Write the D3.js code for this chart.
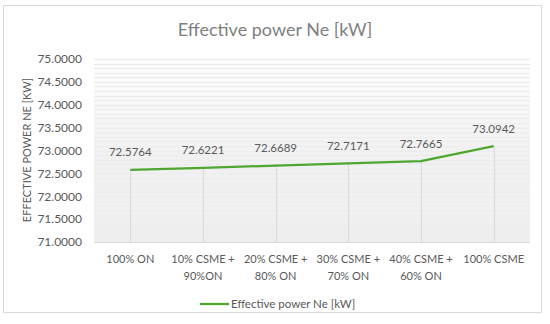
<!DOCTYPE html>
<html>
<head>
<script src="https://d3js.org/d3.v7.min.js"></script>
<style>
  body { margin: 0; background: #fff; }
  text { font-family: Lato, "Open Sans", sans-serif; fill: #595959; }
</style>
</head>
<body>
<div id="chart"></div>
<script>
var categories = [["100% ON"], ["10% CSME +", "90%ON"], ["20% CSME +", "80% ON"],
                  ["30% CSME +", "70% ON"], ["40% CSME +", "60% ON"], ["100%  CSME"]];
var values = [72.5764, 72.6221, 72.6689, 72.7171, 72.7665, 73.0942];
var yTicks = [71, 71.5, 72, 72.5, 73, 73.5, 74, 74.5, 75];
var seriesName = "Effective power Ne [kW]";

var width = 550, height = 324;
var plotLeft = 94, plotRight = 530, plotTop = 59, plotBottom = 242;

var svg = d3.select("#chart").append("svg")
    .attr("width", width).attr("height", height);

// chart border
svg.append("rect")
    .attr("x", 3.5).attr("y", 5.5)
    .attr("width", 538).attr("height", 307)
    .attr("fill", "#fff").attr("stroke", "#d9d9d9");

var defs = svg.append("defs");
var grad = defs.append("linearGradient").attr("id", "bg")
    .attr("x1", 0).attr("y1", 0).attr("x2", 0).attr("y2", 1);
grad.append("stop").attr("offset", "0%").attr("stop-color", "#ffffff");
grad.append("stop").attr("offset", "55%").attr("stop-color", "#f1f1f1");
grad.append("stop").attr("offset", "100%").attr("stop-color", "#efefef");

var x = d3.scaleBand()
    .domain(d3.range(categories.length))
    .range([plotLeft, plotRight]);

var y = d3.scaleLinear()
    .domain([71, 75])
    .range([plotBottom, plotTop]);

svg.append("rect")
    .attr("x", plotLeft).attr("y", plotTop)
    .attr("width", plotRight - plotLeft).attr("height", plotBottom - plotTop)
    .attr("fill", "url(#bg)");

// minor gridlines every 0.1
var minor = d3.range(71.1, 75.001, 0.1);
svg.append("g").selectAll("line")
    .data(minor)
    .enter().append("line")
    .attr("x1", plotLeft).attr("x2", plotRight)
    .attr("y1", function(d) { return Math.round(y(d)) + 0.5; })
    .attr("y2", function(d) { return Math.round(y(d)) + 0.5; })
    .attr("stroke", "#ededed")
    .attr("stroke-width", 1.3);

// drop lines
svg.append("g").selectAll("line")
    .data(values)
    .enter().append("line")
    .attr("x1", function(d, i) { return Math.round(x(i) + x.bandwidth() / 2) + 0.5; })
    .attr("x2", function(d, i) { return Math.round(x(i) + x.bandwidth() / 2) + 0.5; })
    .attr("y1", function(d) { return y(d); })
    .attr("y2", plotBottom)
    .attr("stroke", "#d9d9d9");

// x axis line
svg.append("line")
    .attr("x1", plotLeft).attr("x2", plotRight)
    .attr("y1", plotBottom + 0.5).attr("y2", plotBottom + 0.5)
    .attr("stroke", "#d9d9d9");

// y axis
var yAxis = svg.append("g")
    .attr("transform", "translate(" + 82 + ",0)")
    .call(d3.axisLeft(y).tickValues(yTicks).tickSize(0).tickPadding(0)
      .tickFormat(d3.format(".4f")));
yAxis.select(".domain").remove();
yAxis.selectAll("text")
    .style("font-family", "Lato, 'Open Sans', sans-serif")
    .style("font-size", "12px")
    .attr("fill", "#595959");

// x labels
var xl = svg.append("g").selectAll("text")
    .data(categories)
    .enter().append("text")
    .attr("x", function(d, i) { return x(i) + x.bandwidth() / 2; })
    .attr("y", 263)
    .attr("text-anchor", "middle")
    .style("font-size", "11px");
xl.selectAll("tspan")
    .data(function(d) { return d; })
    .enter().append("tspan")
    .attr("x", function() { return this.parentNode.getAttribute("x"); })
    .attr("dy", function(d, i) { return i === 0 ? 0 : 16.5; })
    .text(function(d) { return d; });

// line
var line = d3.line()
    .x(function(d, i) { return x(i) + x.bandwidth() / 2; })
    .y(function(d) { return y(d); });

svg.append("path")
    .datum(values)
    .attr("d", line)
    .attr("fill", "none")
    .attr("stroke", "#4ea72e")
    .attr("stroke-width", 2.25)
    .attr("stroke-linejoin", "round");

// data labels
svg.append("g").selectAll("text")
    .data(values)
    .enter().append("text")
    .attr("x", function(d, i) { return x(i) + x.bandwidth() / 2; })
    .attr("y", function(d) { return y(d) - 13.5; })
    .attr("text-anchor", "middle")
    .style("font-size", "11.5px")
    .text(function(d) { return d3.format(".4f")(d); });

// title
svg.append("text")
    .attr("x", 275).attr("y", 36)
    .attr("text-anchor", "middle")
    .style("font-size", "18px")
    .style("fill", "#7f7f7f")
    .text(seriesName);

// y axis title
svg.append("text")
    .attr("transform", "translate(31,150) rotate(-90)")
    .attr("text-anchor", "middle")
    .style("font-size", "11px")
    .text("EFFECTIVE POWER NE [KW]");

// legend
svg.append("line")
    .attr("x1", 200).attr("x2", 229)
    .attr("y1", 304).attr("y2", 304)
    .attr("stroke", "#4ea72e").attr("stroke-width", 2.25);
svg.append("text")
    .attr("x", 231).attr("y", 308)
    .style("font-size", "11.5px")
    .text(seriesName);
</script>
</body>
</html>
